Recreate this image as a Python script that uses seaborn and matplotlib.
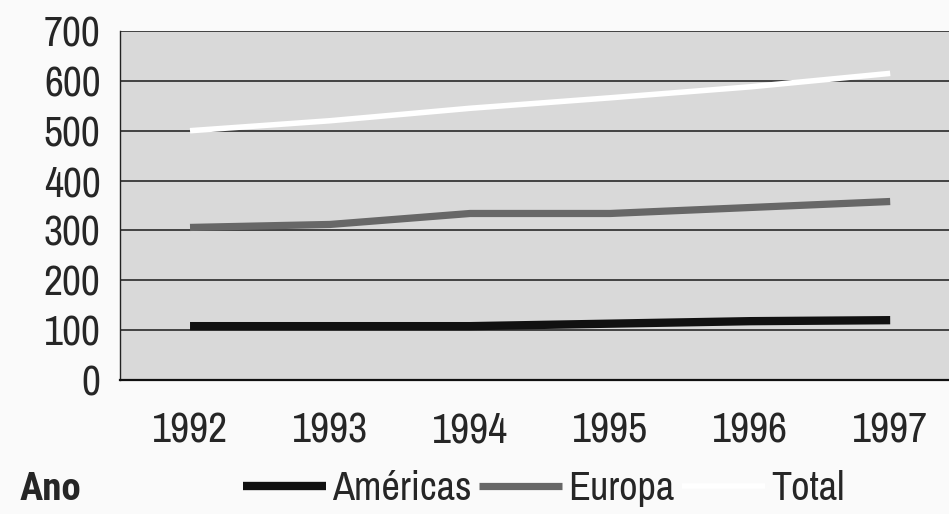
import pandas as pd
import matplotlib.pyplot as plt
import seaborn as sns
from matplotlib.ticker import FixedLocator, MultipleLocator

# valores (aprox.)
anos = ["1992", "1993", "1994", "1995", "1996", "1997"]
americas = [108, 108, 108, 113, 118, 120]
europa = [306, 312, 334, 334, 346, 358]
total = [500, 520, 545, 566, 588, 615]
series = ["Américas", "Europa", "Total"]
cores = {"Américas": "#111111", "Europa": "#676767", "Total": "#ffffff"}
larguras = {"Américas": 6.0, "Europa": 5.2, "Total": 4.0}

df = pd.DataFrame({
    "Ano": anos * 3,
    "Valor": americas + europa + total,
    "Região": [s for s in series for _ in anos],
})

sns.set_style("white")
plt.rcParams["font.family"] = ["Archivo Narrow", "Roboto Condensed", "Liberation Sans", "DejaVu Sans"]

fig = plt.figure(figsize=(9.49, 5.14), dpi=100, facecolor="#fafafa")
ax = fig.add_axes([120 / 949, 134 / 514, 829 / 949, 349 / 514])
ax.set_facecolor("#d9d9d9")

sns.lineplot(data=df, x="Ano", y="Valor", hue="Região", hue_order=series,
             palette=cores, sort=False, legend=False, ax=ax, zorder=3)
for line, nome in zip(ax.lines, series):
    line.set_linewidth(larguras[nome])
    line.set_solid_capstyle("butt")

ax.set_xlim(-0.5, 5.42)
ax.set_ylim(0, 700)
ax.yaxis.set_major_locator(MultipleLocator(100))
ax.grid(axis="y", color="#1a1a1a", linewidth=1.1, zorder=1)
ax.set_axisbelow(True)

# marcas entre as categorias
ax.xaxis.set_minor_locator(FixedLocator([k - 0.5 for k in range(7)]))
ax.tick_params(axis="x", which="major", length=0, pad=23, labelsize=30)
ax.tick_params(axis="x", which="minor", length=8, width=0.8, color="#222222")
ax.tick_params(axis="y", length=6, width=1.0, color="#222222", pad=8, labelsize=30)
ax.set_xlabel("")
ax.set_ylabel("")

for lado in ["top", "right"]:
    ax.spines[lado].set_visible(False)
ax.spines["left"].set_color("#222222")
ax.spines["left"].set_linewidth(1.0)
ax.spines["bottom"].set_color("#111111")
ax.spines["bottom"].set_linewidth(1.6)

ax.legend(handles=ax.lines[:3], labels=series, loc="center",
          bbox_to_anchor=(0.573, 0.049), bbox_transform=fig.transFigure,
          ncol=3, frameon=False, fontsize=29, handlelength=2.05,
          handletextpad=0.15, columnspacing=0.2)

fig.text(20 / 949, 25 / 514, "Ano", fontsize=28, fontweight="bold", va="center",
         family=["Roboto Condensed", "Liberation Sans"])

fig.savefig("out.png", dpi=100, facecolor=fig.get_facecolor())
